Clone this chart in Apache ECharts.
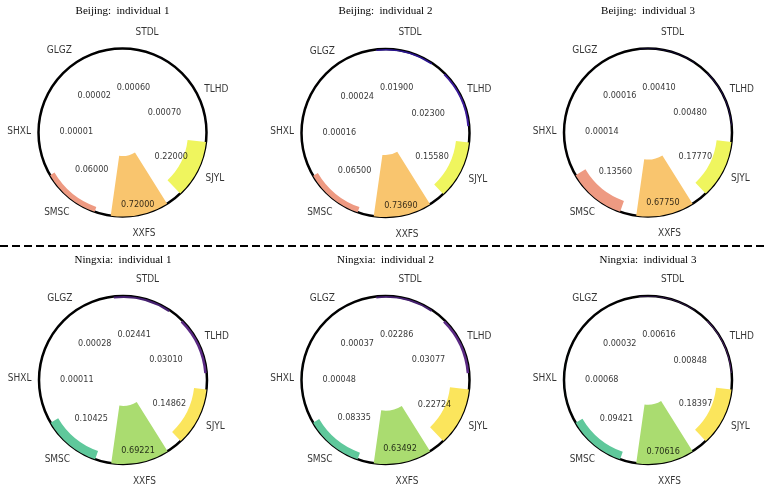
<!DOCTYPE html>
<html>
<head>
<meta charset="utf-8">
<script src="https://cdn.jsdelivr.net/npm/echarts@6/dist/echarts.min.js"></script>
<style>
    html, body { margin: 0; padding: 0; background: #fff; }
    #main { width: 767px; height: 487px; }
</style>
</head>
<body>
<div id="main"></div>
<script>
    // 类别（顺时针，从顶部开始）
    const cats = ['STDL', 'TLHD', 'SJYL', 'XXFS', 'SMSC', 'SHXL', 'GLGZ'];
    const titles = ['Beijing:  individual 1', 'Beijing:  individual 2', 'Beijing:  individual 3',
        'Ningxia:  individual 1', 'Ningxia:  individual 2', 'Ningxia:  individual 3'];

    const beijing1 = [0.00060, 0.00070, 0.22000, 0.72000, 0.06000, 0.00001, 0.00002];
    const beijing2 = [0.01900, 0.02300, 0.15580, 0.73690, 0.06500, 0.00016, 0.00024];
    const beijing3 = [0.00410, 0.00480, 0.17770, 0.67750, 0.13560, 0.00014, 0.00016];
    const ningxia1 = [0.02441, 0.03010, 0.14862, 0.69221, 0.10425, 0.00011, 0.00028];
    const ningxia2 = [0.02286, 0.03077, 0.22724, 0.63492, 0.08335, 0.00048, 0.00037];
    const ningxia3 = [0.00616, 0.00848, 0.18397, 0.70616, 0.09421, 0.00068, 0.00032];

    const panels = [beijing1, beijing2, beijing3, ningxia1, ningxia2, ningxia3];

    const bjColors = ['#2b1590', '#3d1c9c', '#eff55e', '#f9c56e', '#ee9a82', '#b12a90', '#6a00a8'];
    const nxColors = ['#45206f', '#5b2a84', '#fbe55c', '#aadc70', '#5fc89b', '#21918c', '#31688e'];

    const centers = [[122.5, 132.5], [385.5, 133], [648, 132.5], [123, 380], [385.5, 380], [648, 380]];
    const R = 84;
    const narrow = "'Liberation Sans Narrow', 'DejaVu Sans Condensed', sans-serif";

    const chart = echarts.init(document.getElementById('main'));

    let title = [], polar = [], angleAxis = [], radiusAxis = [], series = [];
    panels.forEach((vals, i) => {
        const pal = i < 3 ? bjColors : nxColors;
        title.push({
            text: titles[i],
            left: centers[i][0],
            top: i < 3 ? 6 : 255,
            padding: 0,
            textAlign: 'center',
            textStyle: {
                fontFamily: "'Liberation Serif', 'Times New Roman', serif",
                fontSize: 11,
                fontWeight: 'normal',
                color: '#000'
            }
        });
        polar.push({ center: centers[i], radius: R });
        angleAxis.push({
            polarIndex: i,
            type: 'category',
            data: cats,
            startAngle: 102,
            clockwise: true,
            axisLine: { lineStyle: { color: '#000', width: 2.5 } },
            axisTick: { show: false },
            splitLine: { show: false },
            axisLabel: { show: false }
        });
        // 反向半径轴：0 在外圈，柱子向圆心伸展
        radiusAxis.push({
            polarIndex: i,
            type: 'value',
            min: 0,
            max: 1,
            inverse: true,
            show: false
        });
        series.push({
            type: 'bar',
            coordinateSystem: 'polar',
            polarIndex: i,
            barCategoryGap: '22%',
            data: vals.map((v, k) => ({ value: v, itemStyle: { color: pal[k] } }))
        });
        // 数值标签
        series.push({
            type: 'scatter',
            coordinateSystem: 'polar',
            polarIndex: i,
            symbolSize: 0,
            silent: true,
            label: {
                show: true,
                position: 'inside',
                color: '#000',
                fontSize: 9,
                fontFamily: narrow,
                formatter: p => p.data.raw.toFixed(5)
            },
            data: vals.map((v, k) => ({ value: [0.45 - 0.45 * v, cats[k]], raw: v }))
        });
        // 类别标签（圆外，居中对齐）
        series.push({
            type: 'scatter',
            coordinateSystem: 'polar',
            polarIndex: i,
            symbolSize: 0,
            silent: true,
            clip: false,
            label: {
                show: true,
                position: 'inside',
                color: '#000',
                fontSize: 10,
                fontFamily: narrow,
                formatter: p => p.name
            },
            data: cats.map(c => ({ name: c, value: [-0.23, c] }))
        });
    });

    const option = {
        backgroundColor: '#fff',
        animation: false,
        title: title,
        polar: polar,
        angleAxis: angleAxis,
        radiusAxis: radiusAxis,
        series: series,
        graphic: [{
            type: 'line',
            shape: { x1: 0, y1: 246, x2: 767, y2: 246 },
            style: { stroke: '#000', lineWidth: 2, lineDash: [8, 4] }
        }]
    };
    chart.setOption(option);
</script>
</body>
</html>
